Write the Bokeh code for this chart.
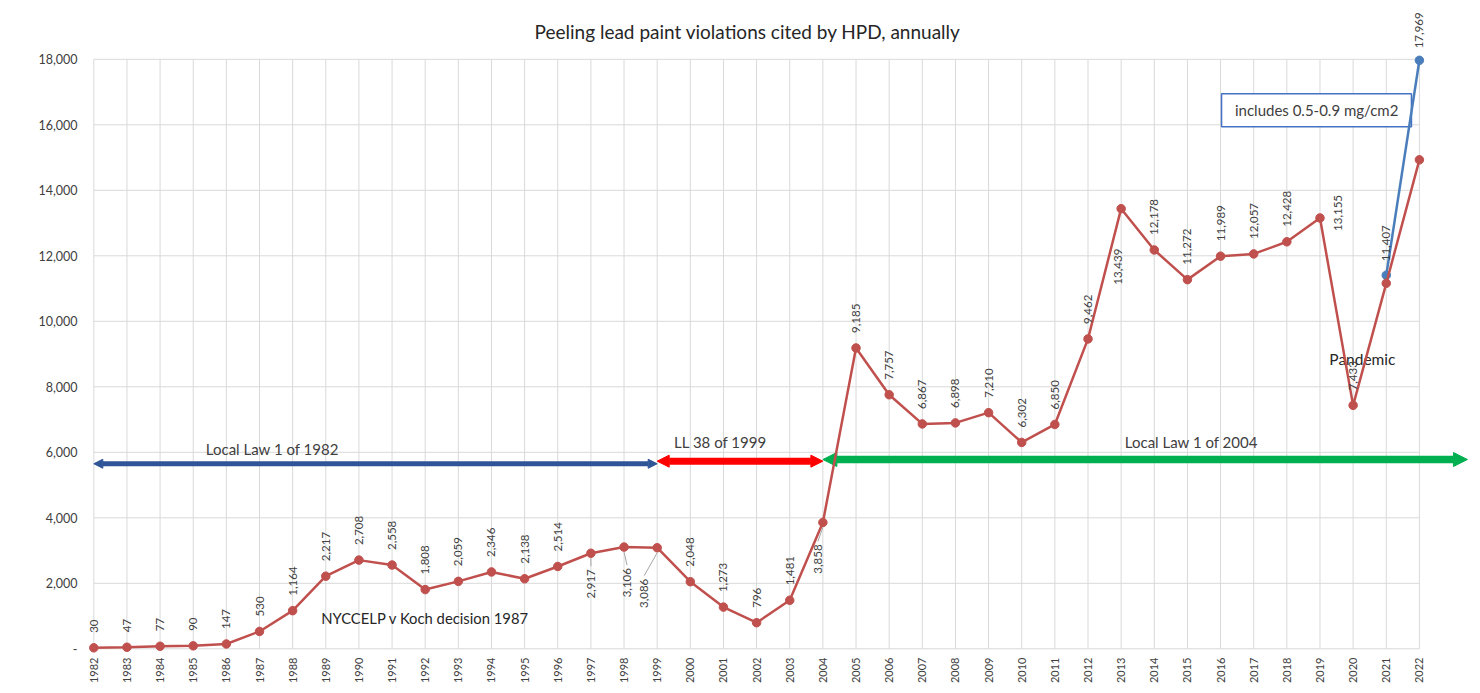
import math
from bokeh.plotting import figure
from bokeh.models import (Range1d, FixedTicker, NumeralTickFormatter, Arrow,
                          NormalHead, Label, ColumnDataSource)
from bokeh.core.properties import value
from bokeh.embed import file_html
from bokeh.resources import INLINE

# ---------------- data ----------------
years = list(range(1982, 2023))
violations = [30, 47, 77, 90, 147, 530, 1164, 2217, 2708, 2558,
              1808, 2059, 2346, 2138, 2514, 2917, 3106, 3086, 2048, 1273,
              796, 1481, 3858, 9185, 7757, 6867, 6898, 7210, 6302, 6850,
              9462, 13439, 12178, 11272, 11989, 12057, 12428, 13155, 7433, 11160,
              14930]
labeled_until = 2020            # red series labelled 1982-2020
incl_years = [2021, 2022]       # series that includes 0.5-0.9 mg/cm2
incl_values = [11407, 17969]
y_ticks = list(range(0, 18001, 2000))

law_names = ["Local Law 1 of 1982", "LL 38 of 1999", "Local Law 1 of 2004"]
law_start = [1982, 1999, 2004]
law_end = [1999, 2004, 2023.45]
law_level = [5650, 5730, 5780]
law_colors = ["#2f5597", "#ff0000", "#00b050"]
law_widths = [5, 7, 7.5]
law_heads = [9, 12, 14]
law_text_pos = [(1987.39, 6115), (2000.91, 6300), (2015.12, 6300)]

# label placement (style): kind, dx px, gap px
special_pos = {1997: ("below", 0, 16), 1998: ("below", 3, 21), 1999: ("below", -13, 31),
               2004: ("below", -5, 22), 2013: ("below", -3, 40), 2019: ("right", 18, 5)}
leaders = [1997, 1998, 1999, 2004]

# ---------------- geometry ----------------
W, H = 1476, 688
MB_L, MB_B = 81, 35
FRAME_W, FRAME_H = W - MB_L, H - MB_B
XPX = 33.14     # px per year
YPX = 0.03275   # px per violation
X0 = 1982 - 12.3 / XPX
X1 = X0 + FRAME_W / XPX
Y1 = 648.3 / YPX
Y0 = Y1 - FRAME_H / YPX
PXX = (X1 - X0) / FRAME_W
PXY = (Y1 - Y0) / FRAME_H

TXT = "#404040"
FONT = "Lato"
RED = "#c0504d"
BLUE = "#4a7ebb"
GRID = "#d9d9d9"

p = figure(width=W, height=H, x_range=Range1d(X0, X1), y_range=Range1d(Y0, Y1),
           toolbar_location=None, output_backend="svg",
           min_border_left=MB_L, min_border_right=0, min_border_top=0,
           min_border_bottom=MB_B)
p.xgrid.visible = False
p.ygrid.visible = False
p.outline_line_color = None
p.background_fill_color = "white"
p.border_fill_color = "white"

# axes
p.yaxis.ticker = FixedTicker(ticks=y_ticks)
p.yaxis.formatter = NumeralTickFormatter(format="0,0")
p.yaxis.major_label_overrides = {0: "-"}
p.xaxis.ticker = FixedTicker(ticks=years)
p.xaxis.major_label_orientation = math.pi / 2
for ax in (p.xaxis, p.yaxis):
    ax.axis_line_color = None
    ax.major_tick_line_color = None
    ax.minor_tick_line_color = None
    ax.major_tick_out = 0
    ax.major_tick_in = 0
    ax.minor_tick_out = 0
    ax.minor_tick_in = 0
    ax.major_label_standoff = 4
    ax.major_label_text_font = FONT
    ax.major_label_text_color = TXT
p.yaxis.major_label_text_font_size = "12.5px"
p.xaxis.major_label_text_font_size = "11px"

# gridlines bounded to the data extent
p.segment(x0=[years[0]] * len(y_ticks), x1=[years[-1]] * len(y_ticks),
          y0=y_ticks, y1=y_ticks, line_color=GRID, line_width=1)
p.segment(x0=years, x1=years, y0=[y_ticks[0]] * len(years),
          y1=[y_ticks[-1]] * len(years), line_color=GRID, line_width=1)

# law arrows
for name, s, e, lv, c, w, hs, tp in zip(law_names, law_start, law_end, law_level,
                                          law_colors, law_widths, law_heads, law_text_pos):
    p.add_layout(Arrow(x_start=e, y_start=lv, x_end=s, y_end=lv,
                       line_color=c, line_width=w,
                       end=NormalHead(size=hs, fill_color=c, line_color=c),
                       start=NormalHead(size=hs, fill_color=c, line_color=c)))
    p.add_layout(Label(x=tp[0], y=tp[1], text=name, text_align="center",
                       text_baseline="middle", text_font=FONT,
                       text_font_size="15px", text_color=TXT))

# note box
p.quad(left=[2016.03], right=[2021.76], bottom=[15939], top=[16947],
       fill_color="white", line_color="#4472c4", line_width=1.5)
p.add_layout(Label(x=2018.9, y=16437, text="includes 0.5-0.9 mg/cm2",
                   text_align="center", text_baseline="middle", text_font=FONT,
                   text_font_size="15px", text_color=TXT))

# data series
p.line(incl_years, incl_values, line_color=BLUE, line_width=2.5, level="overlay")
p.scatter(incl_years, incl_values, size=8.5, fill_color=BLUE, line_color=BLUE,
          level="overlay")
p.line(years, violations, line_color=RED, line_width=2.5, level="overlay")
p.scatter(years, violations, size=8.5, fill_color=RED, line_color=RED, level="overlay")

# data labels
groups = {"above": dict(x=[], y=[], t=[]), "below": dict(x=[], y=[], t=[]),
          "right": dict(x=[], y=[], t=[])}
lead = dict(x0=[], y0=[], x1=[], y1=[])
for yr, v in zip(years, violations):
    if yr > labeled_until:
        continue
    kind, dx, gap = special_pos.get(yr, ("above", 0, 15))
    lx = yr + dx * PXX
    if kind == "below":
        ly = v - gap * PXY
    else:
        ly = v + gap * PXY
    g = groups[kind]
    g["x"].append(lx); g["y"].append(ly); g["t"].append(f"{v:,}")
    if yr in leaders:
        lead["x0"].append(yr); lead["y0"].append(v - 5 * PXY)
        lead["x1"].append(lx); lead["y1"].append(ly + 3 * PXY)
for yr, v in zip(incl_years, incl_values):
    gap = 14 if yr == incl_years[0] else 12
    g = groups["above"]
    g["x"].append(yr); g["y"].append(v + gap * PXY); g["t"].append(f"{v:,}")

p.segment(x0="x0", y0="y0", x1="x1", y1="y1", source=ColumnDataSource(lead),
          line_color="#a6a6a6", line_width=1, level="overlay")
aligns = {"above": "left", "below": "right", "right": "center"}
for kind, g in groups.items():
    p.text(x="x", y="y", text="t", source=ColumnDataSource(g), angle=math.pi / 2,
           text_align=aligns[kind], text_baseline="middle",
           text_font=value(FONT), text_font_size="11.5px", text_color=TXT,
           level="overlay")

# annotations
p.add_layout(Label(x=1992.0, y=927, text="NYCCELP v Koch decision 1987",
                   text_align="center", text_baseline="middle", text_font=FONT,
                   text_font_size="14.8px", text_color="#262626"))
p.add_layout(Label(x=2020.28, y=8840, text="Pandemic", text_align="center",
                   text_baseline="middle", text_font=FONT, text_font_size="15.5px",
                   text_color="#262626"))
p.add_layout(Label(x=2001.73, y=18857,
                   text="Peeling lead paint violations cited by HPD, annually",
                   text_align="center", text_baseline="middle", text_font=FONT,
                   text_font_size="19px", text_color="#262626"))

open("out.html", "w").write(file_html(p, INLINE))
